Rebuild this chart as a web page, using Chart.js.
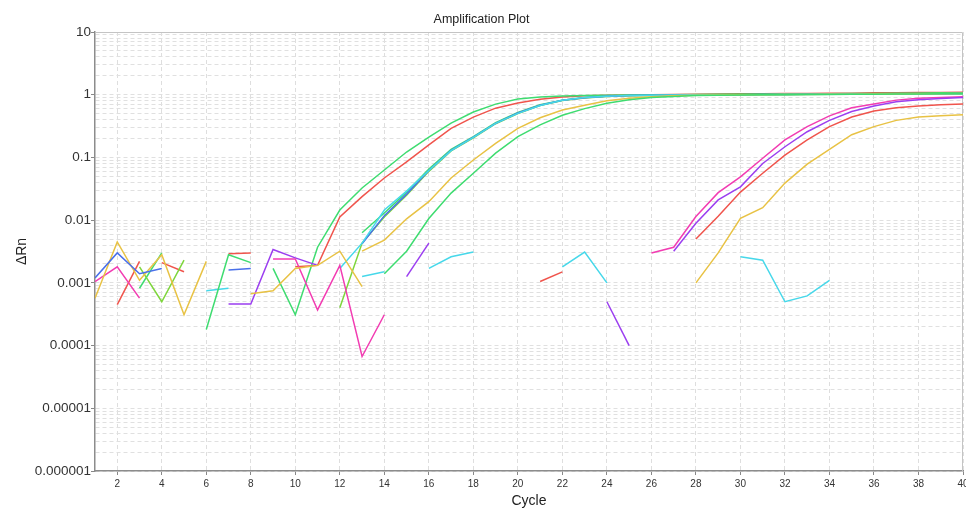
<!DOCTYPE html>
<html><head><meta charset="utf-8">
<script src="https://cdn.jsdelivr.net/npm/chart.js@4/dist/chart.umd.min.js"></script>
<style>html,body{margin:0;padding:0;background:#fff}#wrap{width:966px;height:510px}</style>
</head><body><div id="wrap"><canvas id="c" width="966" height="510"></canvas></div>
<script>
const _ = null;
const cycles = [1,2,3,4,5,6,7,8,9,10,11,12,13,14,15,16,17,18,19,20,21,22,23,24,25,26,27,28,29,30,31,32,33,34,35,36,37,38,39,40];
const xTickValues = [2,4,6,8,10,12,14,16,18,20,22,24,26,28,30,32,34,36,38,40];
const yDecades = [-6,-5,-4,-3,-2,-1,0];
const ySignificands = [1,2,3,4,5,6,7,8,9];
const yTickLabels = ['0.000001','0.00001','0.0001','0.001','0.01','0.1','1','10'];

function pad(start, vals) {
  const out = cycles.map(() => null);
  vals.forEach((v, i) => { out[start - 1 + i] = v; });
  return out;
}

// Early amplification curves
const greenA  = pad(9,  [0.0017,0.00031,0.0037,0.0145,0.0326,0.063,0.122,0.211,0.353,0.529,0.708,0.851,0.916,0.95,0.97,0.98,0.99,1.0,1.0,1.01,1.02,1.02,1.03,1.03,1.04,1.04,1.05,1.05,1.06,1.06,1.07,1.07]);
const redA    = pad(10, [0.0018,0.0019,0.0112,0.0237,0.047,0.085,0.158,0.29,0.44,0.61,0.74,0.85,0.92,0.96,0.98,0.99,1.0,1.01,1.02,1.03,1.04,1.04,1.05,1.05,1.06,1.06,1.07,1.07,1.08,1.08,1.09]);
const greenB  = pad(13, [0.0063,0.013,0.028,0.065,0.135,0.215,0.36,0.52,0.69,0.82,0.9,0.95,0.97,0.98,0.99,1.0,1.0,1.01,1.01,1.02,1.02,1.03,1.03,1.04,1.04,1.05,1.05,1.06]);
const limeB   = pad(12, [0.0004,0.0043,0.0112,0.025,0.06,0.127,0.205,0.345,0.5,0.67,0.81,0.89,0.94,0.965,0.975,0.985,0.99,1.0,1.0,1.01,1.01,1.02,1.02,1.03,1.03,1.04,1.04,1.05,1.05]);
const blueB   = pad(13, [0.0042,0.0118,0.026,0.062,0.13,0.21,0.35,0.51,0.68,0.815,0.895,0.945,0.97,0.98,0.99,0.995,1.0,1.0,1.01,1.01,1.02,1.02,1.03,1.03,1.04,1.04,1.04,1.05]);
const cyanB   = pad(12, [0.0017,0.0043,0.0145,0.029,0.062,0.128,0.208,0.35,0.505,0.675,0.815,0.9,0.945,0.97,0.98,0.99,0.995,1.0,1.0,1.0,1.01,1.01,1.02,1.02,1.03,1.03,1.03,1.04,1.04]);
const yellowB = pad(13, [0.0032,0.0048,0.0105,0.0197,0.047,0.091,0.168,0.29,0.43,0.57,0.68,0.8,0.88,0.93,0.96,0.98,0.99,1.0,1.0,1.01,1.01,1.02,1.02,1.03,1.03,1.04,1.04,1.05]);
const greenC  = pad(14, [0.0014,0.0032,0.0106,0.027,0.056,0.117,0.215,0.33,0.47,0.6,0.73,0.83,0.9,0.94,0.97,0.98,0.99,1.0,1.0,1.01,1.01,1.02,1.02,1.03,1.03,1.04,1.04]);

// Late amplification curves
const pinkL   = pad(26, [0.003,0.0037,0.0114,0.0274,0.049,0.097,0.19,0.31,0.46,0.62,0.71,0.82,0.88,0.9,0.93]);
const purpleL = pad(27, [0.0032,0.0089,0.021,0.034,0.08,0.148,0.257,0.39,0.54,0.66,0.77,0.83,0.87,0.9]);
const redL    = pad(28, [0.005,0.0115,0.028,0.056,0.109,0.19,0.31,0.44,0.55,0.62,0.66,0.69,0.71]);
const yellowL = pad(28, [0.001,0.003,0.0107,0.0158,0.039,0.078,0.135,0.23,0.31,0.39,0.44,0.46,0.48]);
const cyanL   = pad(30, [0.0026,0.0023,0.0005,0.00062,0.0011]);

// Baseline noise fragments
const blue1   = pad(1,  [0.0012,0.0030,0.0014,0.0017]);
const blue2   = pad(7,  [0.0016,0.0017]);
const yellow1 = pad(1,  [0.00057,0.0045,0.0011,0.0028,0.00031,0.0022]);
const yellow2 = pad(8,  [0.00067,0.00075,0.0017,0.0019,0.0032,0.00087]);
const pink1   = pad(1,  [0.00105,0.0018,0.00057]);
const pink2   = pad(9,  [0.0024,0.0024,0.00037,0.0019,0.000067,0.00031]);
const red1    = pad(2,  [0.00045,0.0022]);
const red2    = pad(4,  [0.0021,0.0015]);
const red3    = pad(7,  [0.0029,0.003]);
const red4    = pad(21, [0.00105,0.0015]);
const lime1   = pad(3,  [0.0018,0.0005,0.0023]);
const green2  = pad(3,  [0.00082,0.003]);
const green3  = pad(6,  [0.00018,0.0028,0.0021]);
const cyan1   = pad(6,  [0.00075,0.00082]);
const cyan2   = pad(13, [0.00126,0.0015]);
const cyan3   = pad(16, [0.0017,0.0026,0.0031]);
const cyan4   = pad(22, [0.0018,0.0031,0.001]);
const purple1 = pad(7,  [0.00046,0.00046,0.0034,0.0025,0.0019]);
const purple2 = pad(15, [0.00126,0.0043]);
const purple3 = pad(24, [0.0005,0.0001]);

const RED = '#f0544c', GREEN = '#3edc70', LIME = '#7ed63c', YELLOW = '#e8c244',
      BLUE = '#4a70ea', PINK = '#f23cb2', PURPLE = '#9b3ef0', CYAN = '#46d8ea';

const series = [
  [blue1, BLUE], [blue2, BLUE], [yellow1, YELLOW], [yellow2, YELLOW], [pink1, PINK], [pink2, PINK],
  [lime1, LIME], [green2, GREEN], [green3, GREEN], [cyan1, CYAN], [cyan2, CYAN], [cyan3, CYAN], [cyan4, CYAN],
  [purple1, PURPLE], [purple2, PURPLE], [purple3, PURPLE], [red1, RED], [red2, RED], [red3, RED], [red4, RED],
  [cyanL, CYAN], [yellowL, YELLOW], [redL, RED], [purpleL, PURPLE], [pinkL, PINK],
  [greenC, GREEN], [yellowB, YELLOW], [cyanB, CYAN], [blueB, BLUE], [limeB, LIME], [greenB, GREEN],
  [greenA, GREEN], [redA, RED]
];

const isPow10 = v => { const e = Math.log10(v); return Math.abs(e - Math.round(e)) < 1e-6; };
const yTickValues = [];
yDecades.forEach(d => ySignificands.forEach(s => yTickValues.push(Number((s * Math.pow(10, d)).toPrecision(10)))));
yTickValues.push(10);

const frame = {
  id: 'frame',
  beforeDatasetsDraw(chart) {
    const {ctx, chartArea: a} = chart;
    ctx.save();
    ctx.strokeStyle = '#c4c4c4';
    ctx.lineWidth = 1;
    ctx.beginPath();
    ctx.moveTo(a.left, Math.round(a.top) + 0.5);
    ctx.lineTo(Math.round(a.right) - 0.5, Math.round(a.top) + 0.5);
    ctx.lineTo(Math.round(a.right) - 0.5, a.bottom);
    ctx.stroke();
    ctx.restore();
  }
};

new Chart(document.getElementById('c'), {
  type: 'line',
  data: {
    datasets: series.map(([arr, col]) => ({
      data: cycles.map((c, i) => ({x: c, y: arr[i]})),
      borderColor: col,
      backgroundColor: col,
      borderWidth: 1.5,
      pointRadius: 0,
      tension: 0,
      fill: false,
      spanGaps: false
    }))
  },
  options: {
    responsive: false,
    animation: false,
    devicePixelRatio: 1,
    layout: { padding: { left: 0, right: 3, top: 0, bottom: 0 } },
    plugins: {
      legend: { display: false },
      tooltip: { enabled: false },
      title: { display: true, text: 'Amplification Plot', color: '#222',
        font: { family: "'Liberation Sans', Arial, sans-serif", size: 12.5, weight: 'normal' },
        padding: { top: 12, bottom: 5 } }
    },
    scales: {
      x: {
        type: 'linear', min: 1, max: 40,
        afterBuildTicks: s => { s.ticks = xTickValues.map(v => ({ value: v })); },
        afterFit: s => { s.height = 39; s.paddingLeft = 0; s.paddingRight = 0; },
        ticks: { autoSkip: false, maxRotation: 0, minRotation: 0, padding: 3, color: '#333',
          font: { family: "'Liberation Sans Narrow', 'Liberation Sans', sans-serif", size: 10 },
          callback: v => String(v) },
        grid: { color: '#dedede', lineWidth: 1, tickLength: 4, tickColor: '#888' },
        border: { display: true, color: '#8c8c8c', width: 1.5, dash: [4, 3] },
        title: { display: true, text: 'Cycle', color: '#222',
          font: { family: "'Liberation Sans', Arial, sans-serif", size: 14 },
          padding: { top: 0, bottom: 0 } }
      },
      y: {
        type: 'logarithmic', min: 1e-6, max: 10,
        afterBuildTicks: s => { s.ticks = yTickValues.map(v => ({ value: v })); },
        afterFit: s => { s.width = 95; s.paddingTop = 0; s.paddingBottom = 0; },
        ticks: { autoSkip: false, padding: 0, color: '#333',
          font: { family: "'Liberation Sans', Arial, sans-serif", size: 13.5 },
          callback: v => isPow10(v) ? yTickLabels[Math.round(Math.log10(v)) + 6] : '' },
        grid: { color: '#e0e0e0', lineWidth: 1, tickLength: 4,
          tickColor: c => (c.tick && isPow10(c.tick.value)) ? '#888' : 'rgba(0,0,0,0)' },
        border: { display: true, color: '#8c8c8c', width: 1.5, dash: [4, 3] },
        title: { display: true, text: 'ΔRn', color: '#222',
          font: { family: "'Liberation Sans', Arial, sans-serif", size: 14 },
          padding: { top: 14, bottom: 0 } }
      }
    }
  },
  plugins: [frame]
});
</script>
</body></html>
